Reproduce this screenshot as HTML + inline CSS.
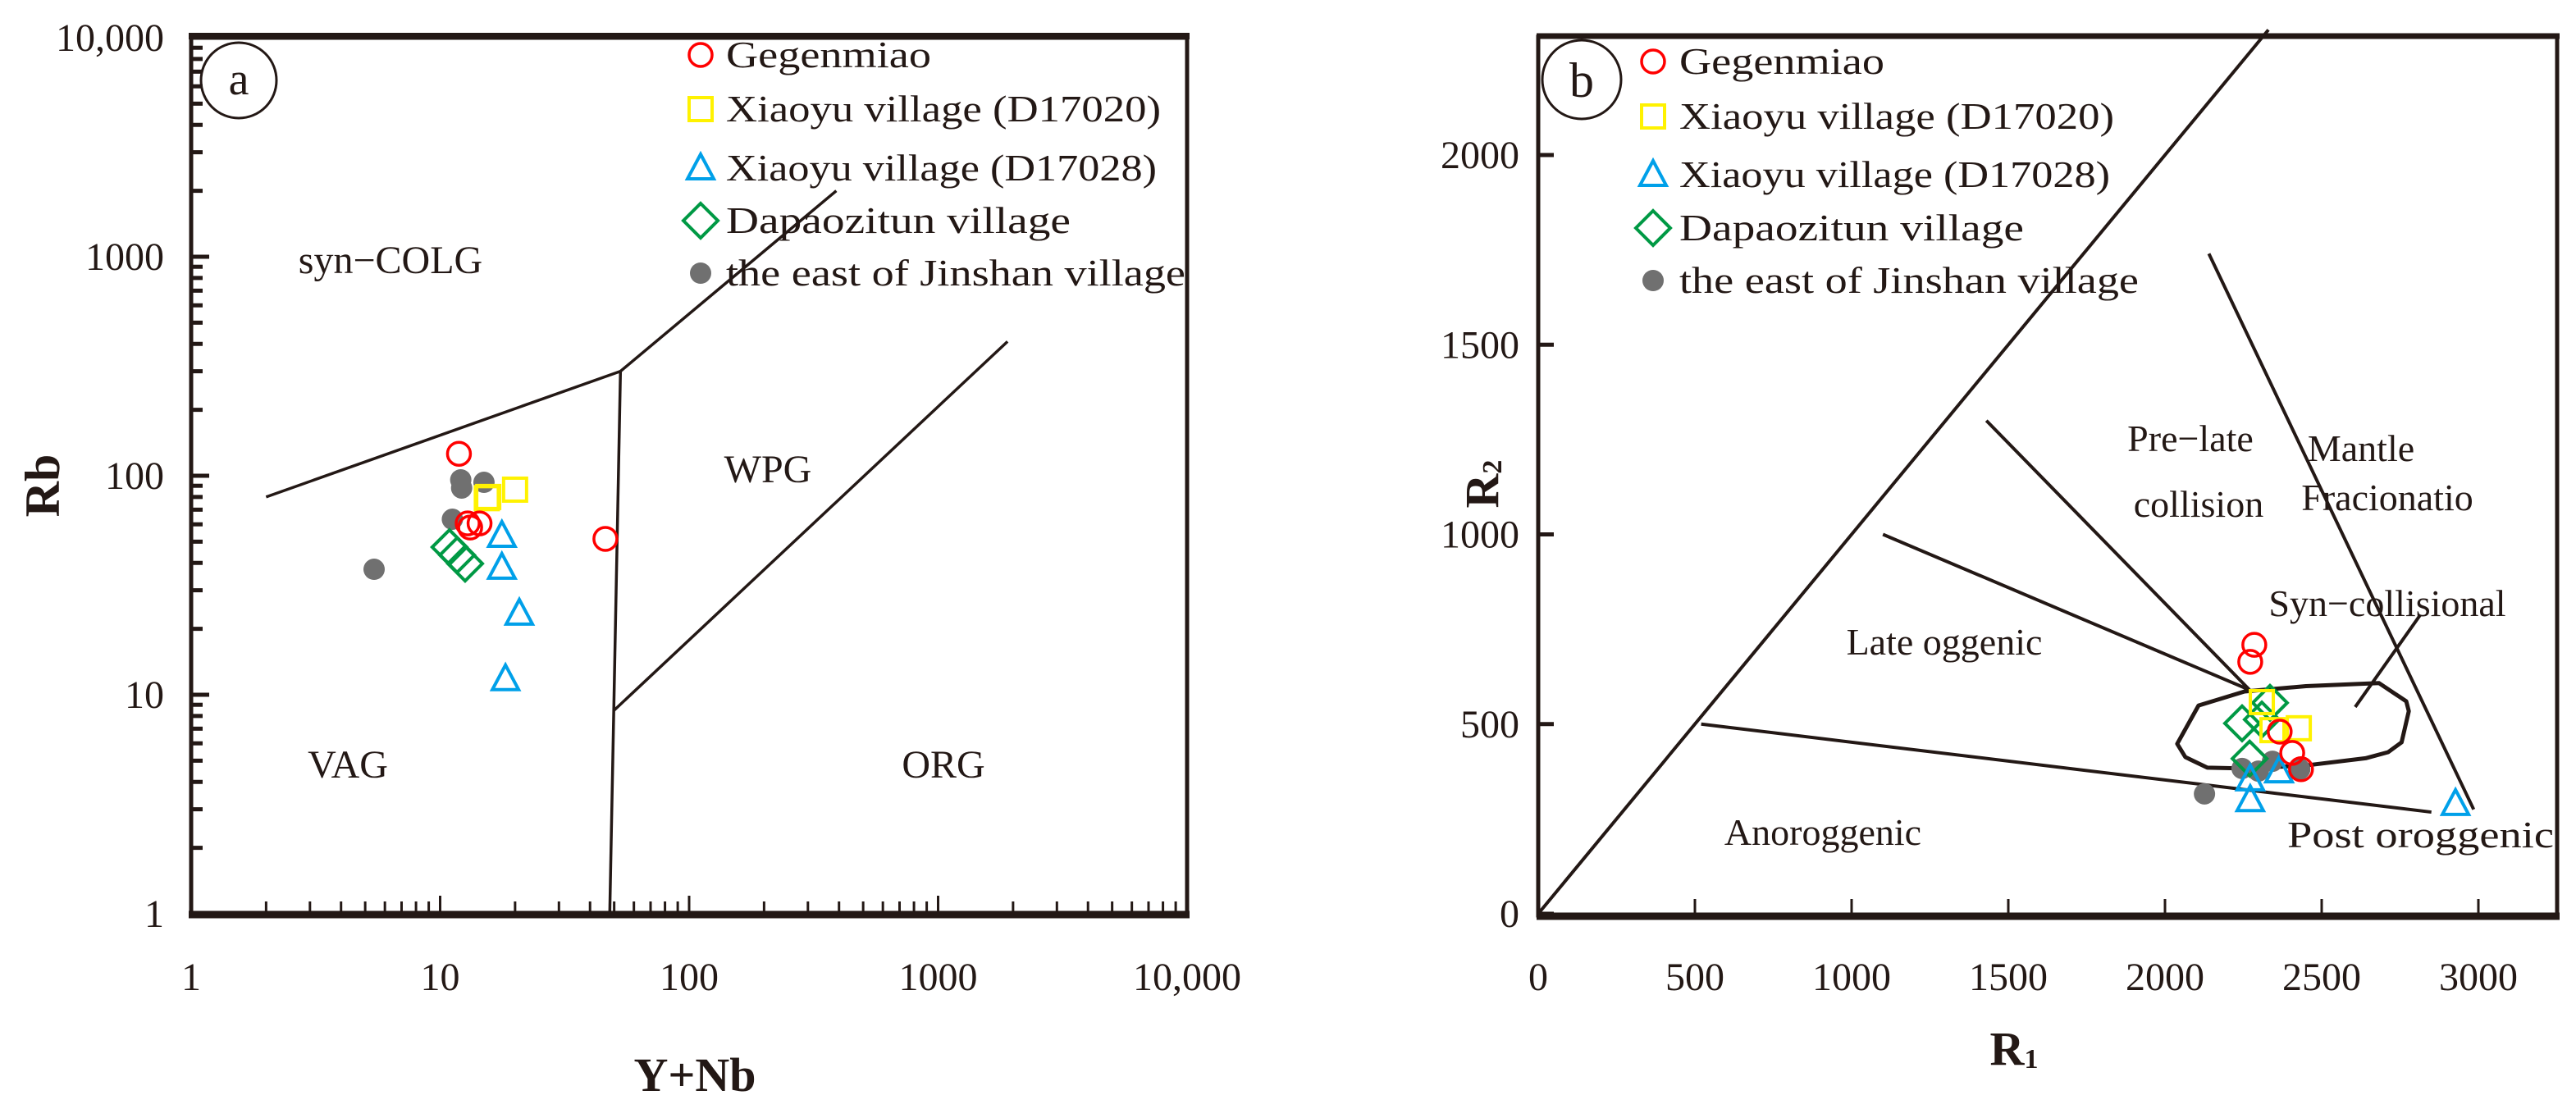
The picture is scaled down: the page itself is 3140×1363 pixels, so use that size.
<!DOCTYPE html>
<html><head><meta charset="utf-8">
<style>
html,body{margin:0;padding:0;background:#fff;}
svg{display:block;}
text{font-family:"Liberation Serif",serif;fill:#231815;}
</style></head>
<body>
<svg id="chart" width="3140" height="1363" viewBox="0 0 3140 1363" xmlns="http://www.w3.org/2000/svg">
<rect x="0" y="0" width="3140" height="1363" fill="#fff"/>
<g id="pa"></g>
<g id="pb"></g>
</svg>
<script>
// ---------- Panel a data (log-log, Y+Nb vs Rb) ----------
const aTicks = [1, 10, 100, 1000, 10000];
const aTickLabels = ["1", "10", "100", "1000", "10,000"];
const aRedX = [11.9, 12.9, 14.4, 13.2, 46.1];
const aRedY = [126, 60.6, 60.6, 58, 51.5];
const aYelX = [15.4, 15.6, 20.0];
const aYelY = [79, 80, 86.4];
const aBluX = [17.7, 17.7, 20.8, 18.3];
const aBluY = [53.3, 38.1, 23.5, 11.8];
const aGrnX = [10.9, 11.7, 12.6];
const aGrnY = [47.2, 43.4, 39.7];
const aGryX = [12.1, 12.2, 15.0, 11.2, 5.43];
const aGryY = [95.8, 87.9, 93.3, 63.3, 37.4];
// field boundaries [x1,y1,x2,y2]
const aLines = [[2,80,53,300],[53,300,390,2000],[53,300,48,1],[50,8.5,1900,410]];

// ---------- Panel b data (R1 vs R2) ----------
const bTicksX = [0, 500, 1000, 1500, 2000, 2500, 3000];
const bTicksY = [0, 500, 1000, 1500, 2000];
const bRedX = [2285, 2272, 2366, 2406, 2434];
const bRedY = [709, 664, 480, 424, 381];
const bYelX = [2309, 2427, 2343];
const bYelY = [558, 489, 484];
const bBluX = [2272, 2272, 2364, 2927];
const bBluY = [355, 300, 376, 290];
const bGrnX = [2335, 2246, 2270, 2309];
const bGrnY = [556, 502, 409, 512];
const bGryX = [2246, 2298, 2343, 2430, 2126];
const bGryY = [383, 376, 402, 381, 316];
const bLines = [[0,0,2330,2330],[520,500,2850,268],[1100,1000,2270,590],[1430,1300,2270,590],[2140,1740,2985,275],[2607,545,2814,787]];
const bEllX = [2039, 2065, 2135, 2254, 2450, 2640, 2712, 2755, 2778, 2770, 2683, 2450, 2254, 2107];
const bEllY = [448, 413, 385, 383, 391, 410, 426, 452, 534, 560, 608, 600, 586, 549];

const NS = "http://www.w3.org/2000/svg";
function mk(parent, tag, attrs, txt){
  const e = document.createElementNS(NS, tag);
  for (const k in attrs) e.setAttribute(k, attrs[k]);
  if (txt !== undefined) e.textContent = txt;
  parent.appendChild(e);
  return e;
}
// axis functions
const ax = v => 233 + 303.5 * Math.log10(v);
const ay = v => 1114 - 267 * Math.log10(v);
const bx = v => 1875 + 0.382 * v;
const by = v => 1114 - 0.4625 * v;

function circle(g, x, y, name){
  const e = mk(g, "circle", {cx:x, cy:y, r:14, fill:"none", stroke:"#ff0000", "stroke-width":3.5});
  
  
}
function square(g, x, y, name){
  const e = mk(g, "rect", {x:x-14, y:y-14, width:28, height:28, fill:"none", stroke:"#fff200", "stroke-width":4});
  
  
}
function tri(g, x, y, name){
  const e = mk(g, "polygon", {points:`${x},${y-17} ${x+16},${y+13} ${x-16},${y+13}`, fill:"none", stroke:"#00a0e9", "stroke-width":4});
  
  
}
function diamond(g, x, y, name){
  const e = mk(g, "polygon", {points:`${x},${y-21} ${x+21},${y} ${x},${y+21} ${x-21},${y}`, fill:"none", stroke:"#009944", "stroke-width":4});
  
  
}
function dot(g, x, y, name){
  const e = mk(g, "circle", {cx:x, cy:y, r:13, fill:"#707070"});
  
  
}
function legend(g, x0, tx, ys){
  const labels = ["Gegenmiao","Xiaoyu village (D17020)","Xiaoyu village (D17028)","Dapaozitun village","the east of Jinshan village"];
  const widths = [250, 530, 525, 420, 560];
  const fns = [circle, square, tri, diamond, dot];
  for (let i = 0; i < 5; i++){
    fns[i](g, x0, ys[i], "legend-marker");
    const t = mk(g, "text", {x:tx, y:ys[i]+15, "font-size":46, textLength:widths[i], lengthAdjust:"spacingAndGlyphs"}, labels[i]);
    
    
  }
}

// ---------- Panel a ----------
const pa = document.getElementById("pa");
aLines.forEach(l => {
  const e = mk(pa, "line", {x1:ax(l[0]), y1:ay(l[1]), x2:ax(l[2]), y2:ay(l[3]), stroke:"#231815", "stroke-width":3.5});
  
  
});
for (let d = 0; d < 4; d++){
  for (let m = 1; m <= 10; m++){
    const v = Math.pow(10, d) * m;
    const major = (m === 1 || m === 10);
    const tx = mk(pa, "line", {x1:ax(v), y1:1114, x2:ax(v), y2:1114-(major?22:15), stroke:"#231815", "stroke-width":3});
    
    
    const ty = mk(pa, "line", {x1:233, y1:ay(v), x2:233+(major?22:14), y2:ay(v), stroke:"#231815", "stroke-width":5});
    
    
  }
}
const fa = mk(pa, "path", {d:"M233,46 L1447,46 L1447,1114 L233,1114 Z", fill:"none", stroke:"#231815", "stroke-width":5});


const fab = mk(pa, "line", {x1:230, y1:1115, x2:1450, y2:1115, stroke:"#231815", "stroke-width":9});


const fat = mk(pa, "line", {x1:230, y1:44, x2:1450, y2:44, stroke:"#231815", "stroke-width":8});


aTicks.forEach((v, i) => {
  const t = mk(pa, "text", {x:ax(v), y:1207, "font-size":48, "text-anchor":"middle"}, aTickLabels[i]);
  
  
  const t2 = mk(pa, "text", {x:200, y:ay(v)+16, "font-size":48, "text-anchor":"end"}, aTickLabels[i]);
  
  
});
const xta = mk(pa, "text", {x:847, y:1330, "font-size":58, "font-weight":"bold", "text-anchor":"middle"}, "Y+Nb");


const yta = mk(pa, "text", {x:0, y:0, "font-size":60, "font-weight":"bold", "text-anchor":"middle", transform:"translate(72,592) rotate(-90)"}, "Rb");


const ca = mk(pa, "circle", {cx:291, cy:98, r:46, fill:"none", stroke:"#231815", "stroke-width":3});


const la = mk(pa, "text", {x:291, y:115, "font-size":56, "text-anchor":"middle"}, "a");


[["syn\u2212COLG",476,333],["WPG",936,588],["VAG",424,948],["ORG",1150,948]].forEach(r => {
  const t = mk(pa, "text", {x:r[1], y:r[2], "font-size":48, "text-anchor":"middle"}, r[0]);
  
  
});
legend(pa, 854, 885, [67, 133, 205, 269, 333]);
aGryX.forEach((v, i) => dot(pa, ax(v), ay(aGryY[i]), "point-jinshan"));
aGrnX.forEach((v, i) => diamond(pa, ax(v), ay(aGrnY[i]), "point-dapaozitun"));
aBluX.forEach((v, i) => tri(pa, ax(v), ay(aBluY[i]), "point-xiaoyu-d17028"));
aYelX.forEach((v, i) => square(pa, ax(v), ay(aYelY[i]), "point-xiaoyu-d17020"));
aRedX.forEach((v, i) => circle(pa, ax(v), ay(aRedY[i]), "point-gegenmiao"));

// ---------- Panel b ----------
const pb = document.getElementById("pb");
bLines.forEach(l => {
  const e = mk(pb, "line", {x1:bx(l[0]), y1:by(l[1]), x2:bx(l[2]), y2:by(l[3]), stroke:"#231815", "stroke-width":4});
  
  
});
let ed = "";
bEllX.forEach((v, i) => { ed += (i ? " L" : "M") + bx(v).toFixed(1) + "," + by(bEllY[i]).toFixed(1); });
const ell = mk(pb, "path", {d:ed + " Z", fill:"none", stroke:"#231815", "stroke-width":5, "stroke-linejoin":"round"});


bTicksX.forEach(v => {
  const e = mk(pb, "line", {x1:bx(v), y1:1114, x2:bx(v), y2:1096, stroke:"#231815", "stroke-width":3});
  
  
  const t = mk(pb, "text", {x:bx(v), y:1207, "font-size":48, "text-anchor":"middle"}, String(v));
  
  
});
bTicksY.forEach(v => {
  const e = mk(pb, "line", {x1:1875, y1:by(v), x2:1894, y2:by(v), stroke:"#231815", "stroke-width":5});
  
  
  const t = mk(pb, "text", {x:1852, y:by(v)+16, "font-size":48, "text-anchor":"end"}, String(v));
  
  
});
const fb = mk(pb, "path", {d:"M1875,45 L3117,45 L3117,1116 L1875,1116 Z", fill:"none", stroke:"#231815", "stroke-width":5});


const fbb = mk(pb, "line", {x1:1873, y1:1117, x2:3120, y2:1117, stroke:"#231815", "stroke-width":9});


const fbt = mk(pb, "line", {x1:1873, y1:44, x2:3120, y2:44, stroke:"#231815", "stroke-width":7});


const xtb = mk(pb, "text", {x:2455, y:1298, "font-size":58, "font-weight":"bold", "text-anchor":"middle"});


xtb.innerHTML = 'R<tspan font-size="34" dy="4">1</tspan>';
const ytb = mk(pb, "text", {x:0, y:0, "font-size":58, "font-weight":"bold", "text-anchor":"middle", transform:"translate(1826,590) rotate(-90)"});


ytb.innerHTML = 'R<tspan font-size="34" dy="4">2</tspan>';
const cb = mk(pb, "circle", {cx:1928, cy:97, r:48, fill:"none", stroke:"#231815", "stroke-width":3});


const lb = mk(pb, "text", {x:1928, y:118, "font-size":60, "text-anchor":"middle"}, "b");


[["Mantle",2878,562],["Fracionatio",2910,622],["Pre\u2212late",2670,550],["collision",2680,630],["Syn\u2212collisional",2910,751],["Late oggenic",2370,798],["Anoroggenic",2222,1030]].forEach(r => {
  const t = mk(pb, "text", {x:r[1], y:r[2], "font-size":46, "text-anchor":"middle"}, r[0]);
  
  
});
const po = mk(pb, "text", {x:2788, y:1033, "font-size":46, textLength:325, lengthAdjust:"spacingAndGlyphs"}, "Post oroggenic");


legend(pb, 2015, 2047, [75, 142, 213, 278, 342]);
bGryX.forEach((v, i) => dot(pb, bx(v), by(bGryY[i]), "point-jinshan"));
bGrnX.forEach((v, i) => diamond(pb, bx(v), by(bGrnY[i]), "point-dapaozitun"));
bBluX.forEach((v, i) => tri(pb, bx(v), by(bBluY[i]), "point-xiaoyu-d17028"));
bYelX.forEach((v, i) => square(pb, bx(v), by(bYelY[i]), "point-xiaoyu-d17020"));
bRedX.forEach((v, i) => circle(pb, bx(v), by(bRedY[i]), "point-gegenmiao"));
</script>
</body></html>
